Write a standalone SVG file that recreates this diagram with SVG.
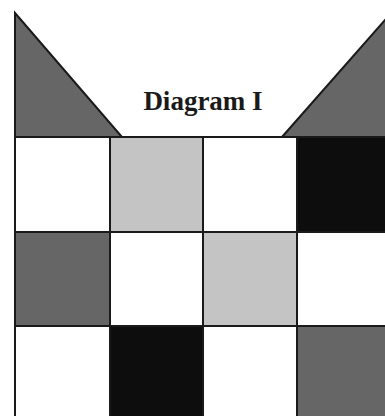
<svg xmlns="http://www.w3.org/2000/svg" width="385" height="416" viewBox="0 0 385 416">
<style>
.c{stroke:#1a1a1a;stroke-width:2}
.w{fill:#ffffff}
.l{fill:#c4c4c4}
.d{fill:#666666}
.k{fill:#0d0d0d}
.t{font-family:"Liberation Serif",serif;font-weight:bold;font-size:27px;fill:#1a1a1a}
</style>
<rect width="385" height="416" fill="#ffffff"/>
<g id="triangle-left"><polygon class="c d" points="15,13 122,137 15,137" stroke-linejoin="miter"/></g>
<g id="triangle-right"><polygon class="c d" points="282,137 392,12 392,137"/></g>
<g id="grid">
<rect class="c w" x="15" y="137" width="95" height="95"/>
<rect class="c l" x="110" y="137" width="93" height="95"/>
<rect class="c w" x="203" y="137" width="94" height="95"/>
<rect class="c k" x="297" y="137" width="95" height="95"/>
<rect class="c d" x="15" y="232" width="95" height="94"/>
<rect class="c w" x="110" y="232" width="93" height="94"/>
<rect class="c l" x="203" y="232" width="94" height="94"/>
<rect class="c w" x="297" y="232" width="95" height="94"/>
<rect class="c w" x="15" y="326" width="95" height="95"/>
<rect class="c k" x="110" y="326" width="93" height="95"/>
<rect class="c w" x="203" y="326" width="94" height="95"/>
<rect class="c d" x="297" y="326" width="95" height="95"/>
</g>
<g id="title"><text class="t" x="203" y="110" text-anchor="middle">Diagram I</text></g>
</svg>
